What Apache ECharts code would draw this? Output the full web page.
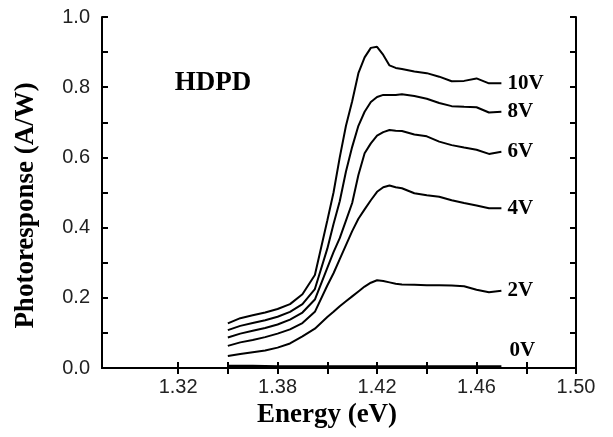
<!DOCTYPE html>
<html>
<head>
<meta charset="utf-8">
<script src="https://cdn.jsdelivr.net/npm/echarts@6/dist/echarts.min.js"></script>
<style>
html,body{margin:0;padding:0;background:#fff;}
#chart{width:613px;height:437px;}
</style>
</head>
<body>
<div id="chart"></div>
<script>
// ---- data ----
const energy = [1.36,1.365,1.37,1.375,1.38,1.385,1.39,1.395,1.40,1.4025,1.405,1.4075,1.41,1.4125,1.415,1.4175,1.42,1.4225,1.425,1.4275,1.43,1.435,1.44,1.445,1.45,1.455,1.46,1.465,1.47];
const seriesNames = ['10V','8V','6V','4V','2V','0V'];
const v10 = [0.127,0.142,0.150,0.158,0.168,0.182,0.210,0.265,0.42,0.50,0.60,0.69,0.76,0.84,0.885,0.912,0.915,0.892,0.862,0.855,0.852,0.845,0.840,0.830,0.817,0.818,0.825,0.811,0.811];
const v8  = [0.108,0.120,0.128,0.136,0.146,0.160,0.182,0.225,0.34,0.41,0.475,0.56,0.63,0.69,0.73,0.758,0.772,0.778,0.778,0.778,0.780,0.775,0.767,0.755,0.746,0.744,0.743,0.728,0.730];
const v6  = [0.087,0.098,0.106,0.114,0.124,0.138,0.158,0.195,0.285,0.33,0.37,0.42,0.47,0.55,0.612,0.64,0.662,0.672,0.678,0.676,0.675,0.665,0.660,0.645,0.635,0.628,0.622,0.610,0.616];
const v4  = [0.063,0.073,0.080,0.088,0.098,0.110,0.128,0.160,0.235,0.27,0.31,0.35,0.39,0.425,0.452,0.478,0.502,0.515,0.520,0.515,0.512,0.498,0.492,0.488,0.478,0.470,0.463,0.455,0.455];
const v2  = [0.034,0.040,0.045,0.050,0.058,0.070,0.090,0.112,0.145,0.160,0.176,0.190,0.204,0.218,0.232,0.243,0.250,0.248,0.244,0.240,0.238,0.237,0.236,0.236,0.235,0.233,0.223,0.216,0.220];
const v0  = [0.006,0.006,0.006,0.005,0.004,0.004,0.004,0.004,0.004,0.004,0.004,0.004,0.004,0.004,0.004,0.004,0.004,0.004,0.004,0.004,0.004,0.004,0.004,0.004,0.004,0.004,0.004,0.004,0.004];
const xTickValues = [1.34,1.36,1.38,1.40,1.42,1.44,1.46,1.48,1.50];
const xLabelValues = [1.34,1.38,1.42,1.46,1.50];
const xTickLabels = ['1.32','1.38','1.42','1.46','1.50'];
const xMin = 1.3094, xMax = 1.50;

const allValues = [v10,v8,v6,v4,v2,v0];
const labelOffsets = [[0,0],[0,0],[0,0],[0,0],[0,0],[2,-16]];

const serifBold = {fontFamily:'Liberation Serif', fontWeight:'bold', color:'#000'};

const chart = echarts.init(document.getElementById('chart'), null, {renderer:'canvas'});
const series = allValues.map((vals, i) => ({
  name: seriesNames[i],
  type: 'line',
  xAxisIndex: 0, yAxisIndex: 0,
  data: energy.map((e, k) => [e, vals[k]]),
  showSymbol: false,
  symbol: 'none',
  lineStyle: {color:'#000', width: i === 5 ? 2.5 : 2},
  animation: false,
  endLabel: {
    show: true,
    formatter: seriesNames[i],
    distance: 6,
    offset: labelOffsets[i],
    fontSize: 21,
    ...serifBold
  }
}));

const axisLineStyle = {show:true, lineStyle:{color:'#000', width:2}};
chart.setOption({
  animation: false,
  backgroundColor: '#fff',
  grid: {left:102, right:37, top:17, bottom:69},
  xAxis: [{
    type:'value', min:xMin, max:xMax, position:'bottom',
    axisLine: axisLineStyle,
    axisTick: {show:true, inside:true, length:6, customValues:xTickValues, lineStyle:{color:'#000', width:2}},
    axisLabel: {show:true, customValues:xLabelValues, margin:9, fontSize:20, fontFamily:'Liberation Sans', color:'#222',
      formatter: (v) => { const k = xLabelValues.findIndex(t => Math.abs(t - v) < 1e-6); return k >= 0 ? xTickLabels[k] : ''; }},
    splitLine: {show:false},
    name: 'Energy (eV)', nameLocation:'middle', nameGap:24,
    nameTextStyle: {fontSize:27, padding:[0,24,0,0], ...serifBold}
  },{
    type:'value', min:xMin, max:xMax, position:'top',
    axisLine: axisLineStyle,
    axisTick: {show:true, inside:true, length:6, customValues:xTickValues, lineStyle:{color:'#000', width:2}},
    axisLabel: {show:false},
    splitLine: {show:false}
  }],
  yAxis: [{
    type:'value', min:0, max:1, interval:0.2, position:'left',
    axisLine: axisLineStyle,
    axisTick: {show:true, inside:true, length:6, lineStyle:{color:'#000', width:2}},
    minorTick: {show:true, splitNumber:2, length:6, lineStyle:{color:'#000', width:2}},
    axisLabel: {margin:12, fontSize:20, fontFamily:'Liberation Sans', color:'#222', formatter: v => v.toFixed(1)},
    splitLine: {show:false},
    name: 'Photoresponse (A/W)', nameLocation:'middle', nameGap:62,
    nameTextStyle: {fontSize:27, padding:[0,26,0,0], ...serifBold}
  },{
    type:'value', min:0, max:1, interval:0.2, position:'right',
    axisLine: axisLineStyle,
    axisTick: {show:true, inside:true, length:6, lineStyle:{color:'#000', width:2}},
    minorTick: {show:true, splitNumber:2, length:6, lineStyle:{color:'#000', width:2}},
    axisLabel: {show:false},
    splitLine: {show:false}
  }],
  graphic: [{
    type:'text', x:213, y:83,
    style: {text:'HDPD', fontSize:27, fontFamily:'Liberation Serif', fontWeight:'bold', fill:'#000', textAlign:'center', textVerticalAlign:'middle'}
  }],
  series: series
});
</script>
</body>
</html>
